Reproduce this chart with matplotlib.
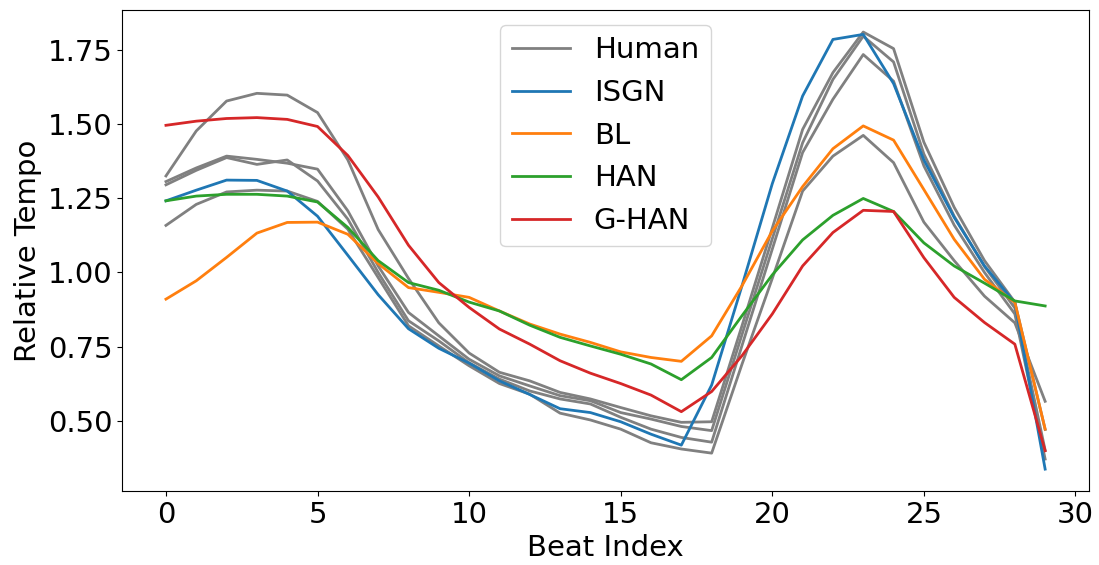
import numpy as np
import matplotlib
matplotlib.use('Agg')
import matplotlib.pyplot as plt

# Beat index 0..29
beats = np.arange(30)

# Human performances (gray)
human_1 = [1.326, 1.478, 1.579, 1.605, 1.599, 1.540, 1.380, 1.145, 0.980, 0.830,
           0.728, 0.663, 0.634, 0.595, 0.573, 0.544, 0.516, 0.494, 0.496, 0.820,
           1.150, 1.483, 1.675, 1.812, 1.756, 1.440, 1.220, 1.040, 0.900, 0.470]
human_2 = [1.307, 1.353, 1.393, 1.382, 1.369, 1.349, 1.208, 1.022, 0.865, 0.786,
           0.707, 0.651, 0.617, 0.584, 0.567, 0.527, 0.505, 0.480, 0.466, 0.790,
           1.114, 1.438, 1.652, 1.798, 1.711, 1.400, 1.190, 1.020, 0.880, 0.400]
human_3 = [1.296, 1.345, 1.388, 1.365, 1.380, 1.309, 1.180, 1.000, 0.837, 0.769,
           0.695, 0.640, 0.600, 0.573, 0.556, 0.511, 0.471, 0.443, 0.427, 0.753,
           1.079, 1.405, 1.585, 1.736, 1.646, 1.360, 1.160, 1.000, 0.860, 0.370]
human_4 = [1.159, 1.230, 1.272, 1.278, 1.275, 1.240, 1.146, 0.983, 0.820, 0.752,
           0.685, 0.625, 0.589, 0.525, 0.502, 0.471, 0.425, 0.404, 0.390, 0.690,
           0.980, 1.275, 1.393, 1.463, 1.371, 1.170, 1.040, 0.920, 0.830, 0.565]

# Model predictions
isgn = [1.242, 1.278, 1.312, 1.311, 1.275, 1.190, 1.058, 0.925, 0.810, 0.744,
        0.694, 0.634, 0.588, 0.540, 0.527, 0.496, 0.454, 0.417, 0.620, 0.955,
        1.300, 1.596, 1.787, 1.804, 1.638, 1.380, 1.186, 1.022, 0.898, 0.336]
bl = [0.910, 0.972, 1.051, 1.133, 1.169, 1.170, 1.129, 1.030, 0.949, 0.933,
      0.916, 0.870, 0.826, 0.792, 0.764, 0.732, 0.713, 0.700, 0.786, 0.955,
      1.140, 1.290, 1.418, 1.495, 1.447, 1.280, 1.112, 0.977, 0.899, 0.471]
han = [1.242, 1.258, 1.264, 1.264, 1.258, 1.238, 1.152, 1.040, 0.966, 0.940,
       0.900, 0.870, 0.822, 0.781, 0.752, 0.724, 0.691, 0.638, 0.713, 0.854,
       0.992, 1.110, 1.193, 1.250, 1.206, 1.100, 1.022, 0.964, 0.904, 0.887]
g_han = [1.497, 1.511, 1.520, 1.523, 1.517, 1.493, 1.395, 1.255, 1.092, 0.966,
         0.882, 0.809, 0.758, 0.702, 0.660, 0.625, 0.586, 0.530, 0.598, 0.719,
         0.860, 1.022, 1.135, 1.210, 1.206, 1.050, 0.916, 0.831, 0.758, 0.398]

fig = plt.figure(figsize=(10.99, 5.65), dpi=100)
ax = fig.add_axes([0.111, 0.131, 0.880, 0.851])

lw = 2
for i, h in enumerate([human_1, human_2, human_3, human_4]):
    ax.plot(beats, h, color='gray', lw=lw, label='Human' if i == 0 else None)
ax.plot(beats, isgn, color='tab:blue', lw=lw, label='ISGN')
ax.plot(beats, bl, color='tab:orange', lw=lw, label='BL')
ax.plot(beats, han, color='tab:green', lw=lw, label='HAN')
ax.plot(beats, g_han, color='tab:red', lw=lw, label='G-HAN')

ax.set_xticks([0, 5, 10, 15, 20, 25, 30])
ax.set_yticks([0.5, 0.75, 1.0, 1.25, 1.5, 1.75])
ax.tick_params(labelsize=21)
ax.set_xlabel('Beat Index', fontsize=21)
ax.set_ylabel('Relative Tempo', fontsize=21)
ax.legend(loc='upper center', fontsize=21)

fig.savefig('out.png', dpi=100)
